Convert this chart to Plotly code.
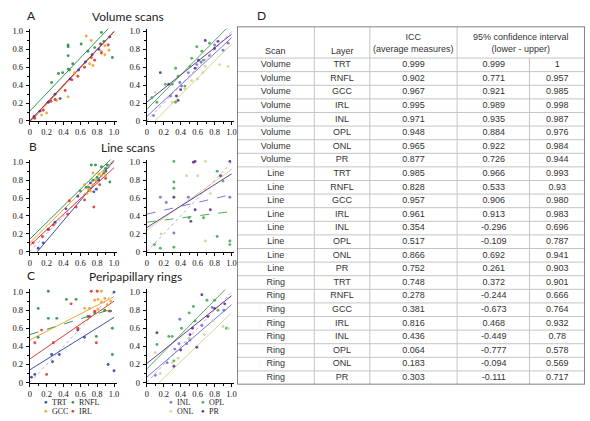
import plotly.graph_objects as go

# ---------------- DATA ----------------
left_layers = ["TRT", "RNFL", "GCC", "IRL"]
right_layers = ["INL", "OPL", "ONL", "PR"]

# Panel A (Volume scans) - left: points (x, y) per layer
vol_left_pts = {
    "TRT": ([0.05, 0.12, 0.22, 0.30, 0.36, 0.48, 0.58, 0.66, 0.74, 0.82, 0.84, 0.95],
            [0.05, 0.11, 0.21, 0.30, 0.25, 0.47, 0.57, 0.66, 0.74, 0.80, 0.86, 0.94]),
    "RNFL": ([0.26, 0.34, 0.39, 0.455, 0.455, 0.455, 0.455, 0.47, 0.51, 0.61, 0.69, 0.77, 0.85, 0.88, 0.98],
             [0.43, 0.53, 0.54, 0.85, 0.83, 0.73, 0.58, 0.57, 0.64, 0.86, 0.78, 0.82, 0.99, 0.89, 0.71]),
    "GCC": ([0.14, 0.20, 0.32, 0.455, 0.53, 0.67, 0.71, 0.73, 0.75, 0.85, 0.89, 0.89, 0.94],
            [0.066, 0.09, 0.23, 0.27, 0.54, 0.95, 0.64, 0.90, 0.62, 0.78, 0.74, 0.84, 0.79]),
    "IRL": ([0.06, 0.16, 0.25, 0.30, 0.42, 0.50, 0.57, 0.65, 0.73, 0.77, 0.85, 0.93],
            [0.03, 0.12, 0.22, 0.24, 0.34, 0.46, 0.50, 0.60, 0.71, 0.68, 0.76, 0.85]),
}
vol_left_fit = {"TRT": (0.0, 1.0), "RNFL": (0.11, 0.99), "GCC": (-0.02, 1.02), "IRL": (0.0, 0.995)}

vol_right_pts = {
    "INL": ([0.08, 0.28, 0.39, 0.41, 0.49, 0.59, 0.64, 0.74, 0.80, 0.90, 0.96],
            [0.06, 0.28, 0.43, 0.39, 0.54, 0.63, 0.66, 0.73, 0.85, 0.79, 0.87]),
    "OPL": ([0.06, 0.12, 0.22, 0.30, 0.34, 0.34, 0.37, 0.45, 0.51, 0.53, 0.59, 0.65, 0.67, 0.74],
            [0.26, 0.21, 0.41, 0.41, 0.21, 0.59, 0.50, 0.39, 0.61, 0.70, 0.83, 0.78, 0.68, 0.87]),
    "ONL": ([0.10, 0.30, 0.45, 0.53, 0.60, 0.66, 0.69, 0.76, 0.86, 0.96],
            [0.32, 0.21, 0.36, 0.45, 0.47, 0.54, 0.61, 0.72, 0.63, 0.61]),
    "PR": ([0.16, 0.26, 0.35, 0.37, 0.40, 0.57, 0.61, 0.69, 0.80, 0.84],
           [0.54, 0.41, 0.28, 0.23, 0.35, 0.59, 0.68, 0.90, 0.81, 0.89]),
}
vol_right_fit = {"INL": (0.05, 0.88), "OPL": (0.13, 0.96), "ONL": (-0.09, 0.95), "PR": (0.21, 0.76)}

# Panel B (Line scans)
line_left_pts = {
    "TRT": ([0.10, 0.16, 0.22, 0.30, 0.43, 0.57, 0.72, 0.76, 0.79, 0.82, 0.90],
            [0.04, 0.10, 0.25, 0.33, 0.48, 0.62, 0.77, 0.67, 0.70, 0.80, 0.90]),
    "RNFL": ([0.60, 0.67, 0.70, 0.73, 0.75, 0.78, 0.80, 0.85, 0.88, 0.90, 0.92, 0.95],
             [0.68, 0.72, 0.72, 0.97, 0.80, 0.97, 0.83, 0.95, 0.88, 0.93, 0.97, 0.78]),
    "GCC": ([0.65, 0.68, 0.70, 0.72, 0.75, 0.75, 0.78, 0.80, 0.82, 0.85, 0.88, 0.90],
            [0.75, 0.65, 0.70, 0.68, 0.75, 0.88, 0.80, 0.78, 0.87, 0.85, 0.90, 0.85]),
    "IRL": ([0.04, 0.15, 0.22, 0.28, 0.45, 0.47, 0.55, 0.65, 0.76, 0.83, 0.90],
            [0.10, 0.17, 0.25, 0.30, 0.42, 0.57, 0.50, 0.58, 0.50, 0.75, 0.82]),
}
line_left_fit = {"TRT": (-0.10, 1.12), "RNFL": (0.14, 0.93), "GCC": (0.10, 0.93), "IRL": (0.07, 0.87)}

line_right_pts = {
    "INL": ([0.16, 0.23, 0.32, 0.49, 0.98],
            [0.61, 0.55, 0.21, 0.61, 0.61]),
    "OPL": ([0.09, 0.16, 0.32, 0.32, 0.32, 0.32, 0.50, 0.67, 0.83, 0.83, 0.90, 0.98, 0.98],
            [0.08, 0.04, 0.05, 0.71, 0.78, 1.01, 0.38, 0.38, 0.90, 0.17, 0.79, 0.12, 0.08]),
    "ONL": ([0.17, 0.47, 0.60, 0.69, 0.69, 0.75],
            [0.20, 0.85, 0.85, 1.01, 0.12, 0.65]),
    "PR": ([0.32, 0.52, 0.55, 0.57, 0.57, 0.75, 0.87, 0.98],
           [0.61, 0.34, 1.00, 1.01, 0.47, 0.47, 0.85, 1.01]),
}
line_right_fit = {"INL": (0.42, 0.22), "OPL": (0.33, 0.12), "ONL": (0.24, 0.68), "PR": (0.27, 0.60)}

# Panel C (Peripapillary rings)
ring_left_pts = {
    "TRT": ([0.02, 0.06, 0.26, 0.27, 0.35, 0.57, 0.65, 0.93, 1.00, 1.00],
            [0.06, 0.09, 0.31, 0.23, 0.31, 0.58, 0.50, 0.20, 0.13, 1.00]),
    "RNFL": ([0.10, 0.10, 0.22, 0.22, 0.32, 0.435, 0.55, 0.69, 0.77, 0.79, 0.89, 0.96, 0.98, 0.98],
             [0.82, 0.50, 1.01, 0.71, 0.71, 0.92, 0.92, 0.73, 0.77, 0.51, 0.80, 0.79, 0.60, 0.31]),
    "GCC": ([0.65, 0.71, 0.77, 0.81, 0.81, 0.85, 0.85, 0.89, 0.92, 0.96],
            [0.82, 0.82, 0.91, 0.92, 0.81, 0.89, 1.01, 0.93, 0.86, 0.90]),
    "IRL": ([0.06, 0.14, 0.20, 0.28, 0.49, 0.57, 0.71, 0.73, 0.77, 0.79, 0.80, 0.94],
            [0.44, 0.58, 0.09, 0.44, 0.87, 0.60, 0.73, 1.01, 0.79, 0.44, 1.01, 0.79]),
}
ring_left_fit = {"TRT": (0.14, 0.58), "RNFL": (0.53, 0.29), "GCC": (0.47, 0.48), "IRL": (0.26, 0.64)}

ring_right_pts = {
    "INL": ([0.10, 0.24, 0.33, 0.38, 0.39, 0.47, 0.51, 0.65, 0.77, 0.91],
            [0.08, 0.22, 0.37, 0.43, 0.70, 0.43, 0.47, 0.63, 0.83, 0.80]),
    "OPL": ([0.12, 0.26, 0.30, 0.32, 0.41, 0.50, 0.55, 0.57, 0.71, 0.80, 0.84, 0.94],
            [0.42, 0.51, 0.51, 0.24, 0.60, 0.77, 0.84, 0.68, 0.91, 0.91, 0.80, 0.60]),
    "ONL": ([0.10, 0.16, 0.30, 0.37, 0.50, 0.68, 0.78, 0.90, 0.96],
            [0.33, 0.10, 0.22, 0.27, 0.49, 0.53, 0.68, 0.62, 0.60]),
    "PR": ([0.12, 0.32, 0.40, 0.51, 0.54, 0.59, 0.65, 0.72, 0.80, 0.92],
           [0.55, 0.18, 0.36, 0.53, 0.60, 0.39, 0.97, 0.73, 0.82, 0.87]),
}
ring_right_fit = {"INL": (0.06, 0.80), "OPL": (0.15, 0.95), "ONL": (-0.13, 0.90), "PR": (0.21, 0.75)}

tick_vals = [0, 0.2, 0.4, 0.6, 0.8, 1.0]
tick_text = ["0", "0.2", "0.4", "0.6", "0.8", "1.0"]

# Table D
scan_col = ["Volume"] * 8 + ["Line"] * 8 + ["Ring"] * 8
layer_col = ["TRT", "RNFL", "GCC", "IRL", "INL", "OPL", "ONL", "PR"] * 3
icc_col = ["0.999", "0.902", "0.967", "0.995", "0.971", "0.948", "0.965", "0.877",
           "0.985", "0.828", "0.957", "0.961", "0.354", "0.517", "0.866", "0.752",
           "0.748", "0.278", "0.381", "0.816", "0.436", "0.064", "0.183", "0.303"]
ci_lower = ["0.999", "0.771", "0.921", "0.989", "0.935", "0.884", "0.922", "0.726",
            "0.966", "0.533", "0.906", "0.913", "-0.296", "-0.109", "0.692", "0.261",
            "0.372", "-0.244", "-0.673", "0.468", "-0.449", "-0.777", "-0.094", "-0.111"]
ci_upper = ["1", "0.957", "0.985", "0.998", "0.987", "0.976", "0.984", "0.944",
            "0.993", "0.93", "0.980", "0.983", "0.696", "0.787", "0.941", "0.903",
            "0.901", "0.666", "0.764", "0.932", "0.78", "0.578", "0.569", "0.717"]
header_texts = ["Scan", "Layer", "ICC<br>(average measures)", "95% confidence interval<br>(lower - upper)"]

# ---------------- STYLE / LAYOUT ----------------
W, H = 590, 421
colors = {"TRT": "#2c3aa8", "RNFL": "#1e8c40", "GCC": "#f39a22", "IRL": "#e02a24",
          "INL": "#6a6adc", "OPL": "#3aa845", "ONL": "#d2d08c", "PR": "#5a2688"}
dashes = {("line", "INL"): "dash", ("line", "OPL"): "dash", ("ring", "RNFL"): "dash"}
ident_color = "#b8b0cc"

# panel geometry in pixels: (x of 0, px per unit, y of 0, px per unit)
col_geo = {"L": (28, 85), "R": (146, 85.5)}
row_geo = {"vol": (121, 91), "line": (254, 91), "ring": (387, 92)}
RMAX = 1.03

panels = [
    ("vol", "L", vol_left_pts, vol_left_fit, left_layers),
    ("vol", "R", vol_right_pts, vol_right_fit, right_layers),
    ("line", "L", line_left_pts, line_left_fit, left_layers),
    ("line", "R", line_right_pts, line_right_fit, right_layers),
    ("ring", "L", ring_left_pts, ring_left_fit, left_layers),
    ("ring", "R", ring_right_pts, ring_right_fit, right_layers),
]

fig = go.Figure()
layout = dict(width=W, height=H, margin=dict(l=0, r=0, t=0, b=0),
              paper_bgcolor="white", plot_bgcolor="white", showlegend=False)

tickfont = dict(family="Liberation Serif", size=8.5, color="#111")

for i, (row, col, pts, fits, layers) in enumerate(panels, start=1):
    x0, sx = col_geo[col]
    y0, sy = row_geo[row]
    xs = "" if i == 1 else str(i)
    common = dict(range=[0, RMAX], showline=True, linecolor="black", linewidth=1,
                  ticks="outside", ticklen=3, tickwidth=1, tickcolor="black",
                  tickvals=tick_vals, ticktext=tick_text, tickfont=tickfont,
                  showgrid=False, zeroline=False, fixedrange=True,
                  minor=dict(ticks="outside", ticklen=2, dtick=0.1, tickcolor="black", showgrid=False))
    layout["xaxis" + xs] = dict(common, domain=[x0 / W, (x0 + RMAX * sx) / W], anchor="y" + xs)
    layout["yaxis" + xs] = dict(common, domain=[1 - y0 / H, 1 - (y0 - RMAX * sy) / H], anchor="x" + xs,
                                ticklabelstandoff=1)
    # identity reference line
    fig.add_trace(go.Scatter(x=[0, 1], y=[0, 1], mode="lines", xaxis="x" + xs, yaxis="y" + xs,
                             line=dict(color=ident_color, width=1, dash="dot"), hoverinfo="skip"))
    for lay in layers:
        b, m = fits[lay]
        fig.add_trace(go.Scatter(x=[0, 1.0], y=[b, b + m * 1.0], mode="lines",
                                 xaxis="x" + xs, yaxis="y" + xs, opacity=0.9,
                                 line=dict(color=colors[lay], width=1,
                                           dash=dashes.get((row, lay), "solid")),
                                 hoverinfo="skip"))
    for lay in layers:
        px_, py_ = pts[lay]
        fig.add_trace(go.Scatter(x=px_, y=py_, mode="markers", xaxis="x" + xs, yaxis="y" + xs,
                                 cliponaxis=False,
                                 marker=dict(color=colors[lay], size=2.9, opacity=0.85), name=lay))

annotations = []
title_font = dict(family="Lato", size=12, color="#222")
for lab, cx, cy in [("A", 30, 14), ("B", 31, 147), ("C", 29, 278), ("D", 262, 14)]:
    annotations.append(dict(text=lab, x=cx / W, y=1 - cy / H, xref="paper", yref="paper",
                            showarrow=False, xanchor="center", yanchor="middle",
                            font=dict(family="Lato", size=12, color="#222")))
for t, cx, cy in [("Volume scans", 127, 15), ("Line scans", 127, 148), ("Peripapillary rings", 135, 279)]:
    annotations.append(dict(text=t, x=cx / W, y=1 - cy / H, xref="paper", yref="paper",
                            showarrow=False, xanchor="center", yanchor="middle", font=title_font))

# legend (custom dot + label)
legend_pos = [("TRT", 44, 407), ("RNFL", 72, 407), ("GCC", 44, 416), ("IRL", 72, 416),
              ("INL", 170, 407), ("OPL", 203, 407), ("ONL", 170, 416), ("PR", 203, 416)]
for lay, lx, ly in legend_pos:
    annotations.append(dict(text="●", x=lx / W, y=1 - ly / H, xref="paper", yref="paper",
                            showarrow=False, xanchor="center", yanchor="middle",
                            font=dict(size=6, color=colors[lay])))
    annotations.append(dict(text=lay, x=(lx + 4) / W, y=1 - ly / H, xref="paper", yref="paper",
                            showarrow=False, xanchor="left", yanchor="middle",
                            font=dict(family="Liberation Serif", size=8, color="#222")))

# ---------------- TABLE ----------------
TX0, TX1, TY0, TY1 = 237, 588, 25, 389
col_edges = [TX0, 315, 371, 459, 532, TX1]
col_centers = [276, 343, 415, 496, 560]
header_bottom = 57
nrows = len(scan_col)
row_h = (TY1 - header_bottom) / nrows
row_centers = [header_bottom + row_h * (k + 0.5) for k in range(nrows)]

layout["xaxis7"] = dict(domain=[TX0 / W, TX1 / W], range=[TX0, TX1], visible=False, fixedrange=True, anchor="y7")
layout["yaxis7"] = dict(domain=[1 - TY1 / H, 1 - TY0 / H], range=[TY1, TY0], visible=False, fixedrange=True, anchor="x7")

cell_x, cell_y, cell_t = [], [], []
for k in range(nrows):
    for c, colvals in enumerate([scan_col, layer_col, icc_col, ci_lower, ci_upper]):
        cell_x.append(col_centers[c])
        cell_y.append(row_centers[k])
        cell_t.append(colvals[k])
fig.add_trace(go.Scatter(x=cell_x, y=cell_y, text=cell_t, mode="text", xaxis="x7", yaxis="y7",
                         textfont=dict(family="Liberation Sans", size=9, color="#333"),
                         hoverinfo="skip", cliponaxis=False))

hdr_x = [col_centers[0], col_centers[1], col_centers[2], (col_edges[3] + col_edges[5]) / 2]
hdr_y = [50, 50, 42, 42]
for t, hx, hy in zip(header_texts, hdr_x, hdr_y):
    annotations.append(dict(text=t, x=hx, y=hy, xref="x7", yref="y7", showarrow=False,
                            xanchor="center", yanchor="middle",
                            font=dict(family="Liberation Sans", size=9, color="#333")))

shapes = []
grid_line = dict(color="#c4c4c4", width=1)
for k in range(nrows):
    yy = header_bottom + row_h * k
    shapes.append(dict(type="line", xref="x7", yref="y7", x0=TX0, x1=TX1, y0=yy, y1=yy, line=grid_line))
for e in col_edges[1:4]:
    shapes.append(dict(type="line", xref="x7", yref="y7", x0=e, x1=e, y0=TY0, y1=TY1, line=grid_line))
shapes.append(dict(type="line", xref="x7", yref="y7", x0=col_edges[4], x1=col_edges[4],
                   y0=header_bottom, y1=TY1, line=grid_line))
shapes.append(dict(type="rect", xref="x7", yref="y7", x0=TX0, x1=TX1, y0=TY0, y1=TY1,
                   line=dict(color="#5a5a5a", width=1.5)))

layout["annotations"] = annotations
layout["shapes"] = shapes
fig.update_layout(**layout)
fig.write_html("out.html")
